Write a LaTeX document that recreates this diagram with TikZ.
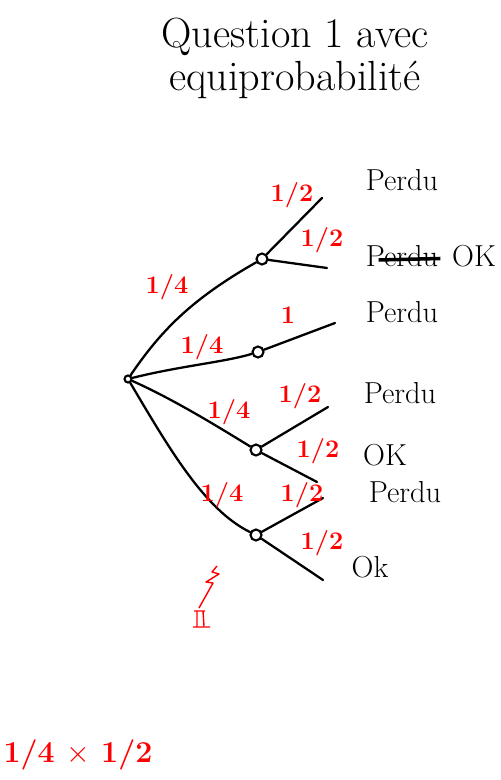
\documentclass[tikz,border=0pt]{standalone}
\usepackage{tikz}
\usetikzlibrary{positioning,calc}

\begin{document}
\begin{tikzpicture}[
  x=0.02cm, y=-0.02cm,
  every node/.style={font=\LARGE},
  titre/.style={font=\fontsize{24}{28}\selectfont},
  fork/.style={draw, circle, line width=1.2pt, inner sep=0pt, minimum size=2.2mm},
  leaf/.style={inner sep=1pt},
  prob/.style={text=red, font=\Large\bfseries, inner sep=1pt},
  br/.style={line width=1.3pt, line cap=round}
]
\useasboundingbox (0,0) rectangle (500,780);

\node[titre] (q1) at (295,37) {Question 1 avec};
\node[titre] (q2) at (295,80) {equiprobabilité};

% arbre
\node[fork, minimum size=1.4mm] (racine) at (128,379) {};
\node[fork] (fa) at (262,259) {};
\node[fork] (fb) at (258,352) {};
\node[fork] (fc) at (256,450) {};
\node[fork] (fd) at (256,535) {};

\coordinate (a1) at (322,198);
\coordinate (a2) at (327,268);
\coordinate (b1) at (335,323);
\coordinate (c1) at (328,407);
\coordinate (c2) at (317,482);
\coordinate (d1) at (323,498);
\coordinate (d2) at (323,580);

\draw[br] (racine) .. controls (160,332) and (190,300) .. (fa);
\draw[br] (racine) .. controls (180,366) and (225,362) .. (fb);
\draw[br] (racine) .. controls (175,400) and (220,428) .. (fc);
\draw[br] (racine) .. controls (170,450) and (205,510) .. (fd);

\draw[br] (fa) -- (a1);
\draw[br] (fa) -- (a2);
\draw[br] (fb) -- (b1);
\draw[br] (fc) -- (c1);
\draw[br] (fc) -- (c2);
\draw[br] (fd) -- (d1);
\draw[br] (fd) -- (d2);

% feuilles
\node[leaf] (l1) at (402,180) {Perdu};
\node[leaf] (l2) at (402,256) {Perdu};
\node[leaf] (l2ok) at (474,256) {OK};
\node[leaf] (l3) at (402,312) {Perdu};
\node[leaf] (l4) at (400,393) {Perdu};
\node[leaf] (l5) at (385,455) {OK};
\node[leaf] (l6) at (405,492) {Perdu};
\node[leaf] (l7) at (370,567) {Ok};
\draw[line width=2pt] ($(l2.west)+(3mm,-0.8mm)$) -- ($(l2.east)+(0,-0.5mm)$);

% probabilites
\node[prob] (p1) at (292,195) {1/2};
\node[prob] (p2) at (322,240) {1/2};
\node[prob] (p3) at (167,287) {1/4};
\node[prob] (p4) at (288,315) {1};
\node[prob] (p5) at (202,347) {1/4};
\node[prob] (p6) at (229,412) {1/4};
\node[prob] (p7) at (300,396) {1/2};
\node[prob] (p8) at (318,451) {1/2};
\node[prob] (p9) at (222,495) {1/4};
\node[prob] (p10) at (302,495) {1/2};
\node[prob] (p11) at (322,543) {1/2};

% gribouillis
\draw[red, thick, line join=round] (217,566) -- (212,572) -- (219,574) -- (206,582) -- (213,583) -- (199,608);
\draw[red, thick] (194,611) -- (205,611) (197,611) -- (197,626) (203,611) -- (204,626) (193,627) -- (210,627);

\node[prob, font=\LARGE\bfseries] (calcul) at (78,755) {1/4 $\times$ 1/2};
\end{tikzpicture}
\end{document}
